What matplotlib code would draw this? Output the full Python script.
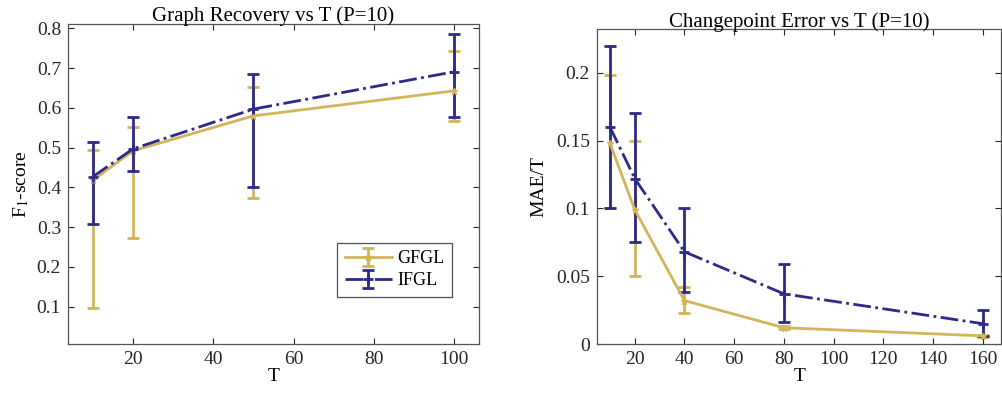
import numpy as np
import matplotlib
matplotlib.use('Agg')
from matplotlib import pyplot as plt

# data
T_left = [10, 20, 50, 100]
gfgl_f1 = [0.418, 0.492, 0.580, 0.643]
gfgl_f1_hi = [0.494, 0.553, 0.652, 0.743]
gfgl_f1_lo = [0.097, 0.273, 0.373, 0.566]
ifgl_f1 = [0.427, 0.497, 0.597, 0.691]
ifgl_f1_hi = [0.515, 0.578, 0.685, 0.786]
ifgl_f1_lo = [0.307, 0.442, 0.400, 0.578]

T_right = [10, 20, 40, 80, 160]
gfgl_mae = [0.148, 0.099, 0.032, 0.012, 0.006]
gfgl_mae_hi = [0.198, 0.150, 0.042, 0.013, 0.007]
gfgl_mae_lo = [0.100, 0.050, 0.023, 0.011, 0.005]
ifgl_mae = [0.160, 0.122, 0.068, 0.037, 0.015]
ifgl_mae_hi = [0.220, 0.170, 0.100, 0.059, 0.025]
ifgl_mae_lo = [0.100, 0.075, 0.038, 0.016, 0.006]

gold = '#D2B55B'
navy = '#2E2A88'

plt.rcParams['font.family'] = ['Liberation Serif', 'DejaVu Serif']
plt.rcParams['mathtext.fontset'] = 'stix'

fig = plt.figure(figsize=(10.02, 3.96), dpi=100)
ax1 = fig.add_axes([0.0679, 0.1313, 0.4102, 0.808])
ax2 = fig.add_axes([0.5958, 0.1313, 0.4035, 0.7947])


def errs(m, hi, lo):
    m = np.asarray(m)
    return [m - np.asarray(lo), np.asarray(hi) - m]


def style(ax):
    ax.tick_params(direction='in', top=True, right=True, labelsize=14,
                   colors='#262626', length=4, width=0.8, pad=5)
    for s in ax.spines.values():
        s.set_color('#555555')
        s.set_linewidth(0.9)


ax1.errorbar(T_left, gfgl_f1, yerr=errs(gfgl_f1, gfgl_f1_hi, gfgl_f1_lo),
             color=gold, ls='-', lw=2, marker='*', ms=5, capsize=4,
             capthick=2, elinewidth=2, label='GFGL')
ax1.errorbar(T_left, ifgl_f1, yerr=errs(ifgl_f1, ifgl_f1_hi, ifgl_f1_lo),
             color=navy, ls='-.', lw=2, marker='+', ms=7, mew=2, capsize=4,
             capthick=2, elinewidth=2, label='IFGL')
ax1.set_xlim(3.8, 106.2)
ax1.set_ylim(0.006, 0.811)
ax1.set_xticks([20, 40, 60, 80, 100])
ax1.set_yticks([0.1, 0.2, 0.3, 0.4, 0.5, 0.6, 0.7, 0.8])
ax1.set_title('Graph Recovery vs T (P=10)', fontsize=15, pad=2)
ax1.set_xlabel('T', fontsize=14, labelpad=0)
ax1.set_ylabel(r'F$_1$-score', fontsize=14, labelpad=4)
style(ax1)
leg = ax1.legend(loc='lower right', bbox_to_anchor=(0.955, 0.12), fontsize=13,
                 fancybox=False, edgecolor='#262626', handlelength=2.6,
                 borderpad=0.4, labelspacing=0.3, handletextpad=0.3)
leg.get_frame().set_linewidth(0.9)

ax2.errorbar(T_right, gfgl_mae, yerr=errs(gfgl_mae, gfgl_mae_hi, gfgl_mae_lo),
             color=gold, ls='-', lw=2, marker='*', ms=5, capsize=4,
             capthick=2, elinewidth=2)
ax2.errorbar(T_right, ifgl_mae, yerr=errs(ifgl_mae, ifgl_mae_hi, ifgl_mae_lo),
             color=navy, ls='-.', lw=2, marker='+', ms=7, mew=2, capsize=4,
             capthick=2, elinewidth=2)
ax2.set_xlim(4.8, 167.5)
ax2.set_ylim(0, 0.232)
ax2.set_xticks([20, 40, 60, 80, 100, 120, 140, 160])
ax2.set_yticks([0, 0.05, 0.1, 0.15, 0.2])
ax2.set_yticklabels(['0', '0.05', '0.1', '0.15', '0.2'])
ax2.set_title('Changepoint Error vs T (P=10)', fontsize=15, pad=2)
ax2.set_xlabel('T', fontsize=14, labelpad=0)
ax2.set_ylabel('MAE/T', fontsize=14, labelpad=6)
style(ax2)

fig.savefig('out.png', dpi=100)
